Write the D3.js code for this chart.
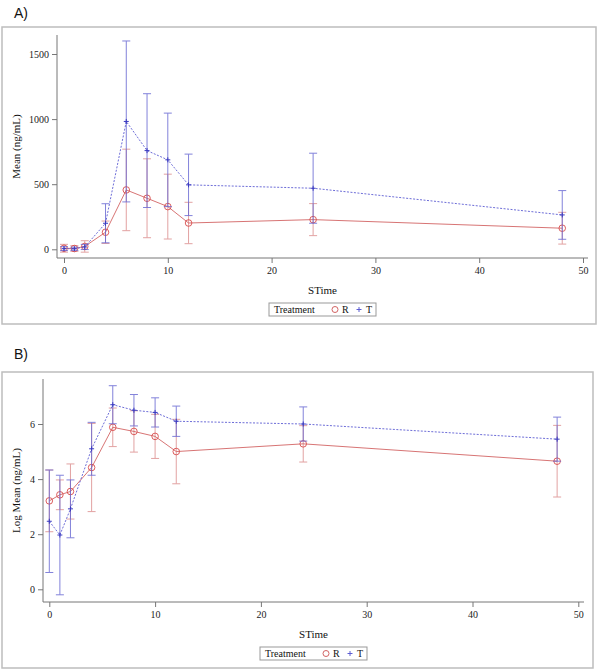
<!DOCTYPE html>
<html>
<head>
<meta charset="utf-8">
<script src="https://cdn.jsdelivr.net/npm/d3@7"></script>
<style>
  body { margin: 0; background: #fff; }
  svg { display: block; }
  .tick line { stroke: #777; }
</style>
</head>
<body>
<div id="chart"></div>
<script>
// sampling times (h)
const times = [0, 1, 2, 4, 6, 8, 10, 12, 24, 48];

// panel A: mean concentration (ng/mL) and SD
const meanR = [8, 6, 22, 131, 456, 392, 328, 202, 228, 162];
const sdR   = [30, 22, 44, 86, 313, 303, 249, 159, 123, 122];
const meanT = [5, 4, 18, 200, 982, 758, 687, 495, 469, 264];
const sdT   = [15, 12, 20, 150, 618, 437, 359, 236, 269, 187];

// panel B: log mean concentration and SD
const logMeanR = [3.21, 3.43, 3.55, 4.42, 5.88, 5.73, 5.55, 5.00, 5.28, 4.65];
const logSdR   = [1.12, 0.54, 1.00, 1.60, 0.70, 0.75, 0.80, 1.17, 0.66, 1.30];
const logMeanT = [2.47, 1.97, 2.92, 5.10, 6.70, 6.50, 6.42, 6.10, 6.00, 5.45];
const logSdT   = [1.86, 2.17, 1.05, 0.96, 0.69, 0.57, 0.53, 0.55, 0.62, 0.80];

const xTicks = [0, 10, 20, 30, 40, 50];
const meanTicks = [0, 500, 1000, 1500];
const logTicks = [0, 2, 4, 6];
const treatments = ["R", "T"];

const colorR = "#d26464", colorT = "#5c5cd2";
const serif = '"Liberation Serif", "Times New Roman", serif';

const svg = d3.select("#chart").append("svg")
  .attr("width", 600)
  .attr("height", 670);

function drawPanel(p) {
  const g = svg.append("g");

  // outer frame
  g.append("rect")
    .attr("x", p.box[0]).attr("y", p.box[1])
    .attr("width", p.box[2]).attr("height", p.box[3])
    .attr("fill", "none").attr("stroke", "#bdbdbd").attr("stroke-width", 1.5);

  g.append("text")
    .attr("x", 14).attr("y", p.titleY)
    .style("font-family", '"Liberation Sans", Arial, sans-serif')
    .style("font-size", "14px").attr("fill", "#111")
    .text(p.title);

  const x = d3.scaleLinear().domain([0, 50]).range(p.xRange);
  const y = d3.scaleLinear().domain(p.yDomain).range(p.yRange);

  // axes
  const xAxis = g.append("g")
    .attr("transform", `translate(0,${p.xAxisY})`)
    .call(d3.axisBottom(x).tickValues(xTicks).tickFormat(d3.format("d")).tickSize(5).tickPadding(4));
  xAxis.select(".domain").remove();
  g.append("line")
    .attr("x1", p.yAxisX).attr("x2", p.xLineEnd)
    .attr("y1", p.xAxisY).attr("y2", p.xAxisY)
    .attr("stroke", "#777");

  const yAxis = g.append("g")
    .attr("transform", `translate(${p.yAxisX},0)`)
    .call(d3.axisLeft(y).tickValues(p.yTicks).tickFormat(d3.format("d")).tickSize(5).tickPadding(3));
  yAxis.select(".domain").remove();
  g.append("line")
    .attr("x1", p.yAxisX).attr("x2", p.yAxisX)
    .attr("y1", p.yLineTop).attr("y2", p.xAxisY)
    .attr("stroke", "#777");

  g.selectAll(".tick text")
    .style("font-family", serif).style("font-size", "10px").attr("fill", "#222");

  // axis labels
  const midX = (p.yAxisX + p.xLineEnd) / 2;
  g.append("text")
    .attr("x", midX).attr("y", p.xAxisY + 36)
    .attr("text-anchor", "middle")
    .style("font-family", serif).style("font-size", "11px").attr("fill", "#111")
    .text("STime");

  g.append("text")
    .attr("transform", `translate(20,${(p.yLineTop + p.xAxisY) / 2}) rotate(-90)`)
    .attr("text-anchor", "middle")
    .style("font-family", serif).style("font-size", "11px").attr("fill", "#111")
    .text(p.yLabel);

  const series = [
    { name: "R", mean: p.meanR, sd: p.sdR, color: colorR, dash: null, barColor: "#dc8c8c" },
    { name: "T", mean: p.meanT, sd: p.sdT, color: colorT, dash: "2,1.5", barColor: "#6464d2" }
  ];

  series.forEach(s => {
    const pts = times.map((t, i) => ({ t, m: s.mean[i], sd: s.sd[i] }));

    // error bars
    const bars = g.append("g")
      .attr("stroke", s.barColor).attr("stroke-width", 1).attr("opacity", 0.8);
    pts.forEach(d => {
      const lo = y(d.m - d.sd), hi = y(d.m + d.sd), cx = x(d.t);
      bars.append("line").attr("x1", cx).attr("x2", cx).attr("y1", lo).attr("y2", hi);
      bars.append("line").attr("x1", cx - 4).attr("x2", cx + 4).attr("y1", lo).attr("y2", lo);
      bars.append("line").attr("x1", cx - 4).attr("x2", cx + 4).attr("y1", hi).attr("y2", hi);
    });

    // mean line
    g.append("path")
      .datum(pts)
      .attr("fill", "none")
      .attr("stroke", s.color)
      .attr("stroke-width", 0.9)
      .attr("stroke-dasharray", s.dash)
      .attr("d", d3.line().x(d => x(d.t)).y(d => y(d.m)));

    // markers
    if (s.name === "R") {
      g.selectAll(null).data(pts).join("circle")
        .attr("cx", d => x(d.t)).attr("cy", d => y(d.m)).attr("r", 3.3)
        .attr("fill", "none").attr("stroke", "#d84c4c").attr("stroke-width", 0.9);
    } else {
      g.selectAll(null).data(pts).join("path")
        .attr("d", d => `M${x(d.t) - 2.5},${y(d.m)}h5M${x(d.t)},${y(d.m) - 2.5}v5`)
        .attr("stroke", "#3a3ac0").attr("stroke-width", 1);
    }
  });

  // legend
  const lw = 107, lh = 13;
  const lx = midX - lw / 2, ly = p.xAxisY + 45;
  const lg = g.append("g").attr("transform", `translate(${lx},${ly})`);
  lg.append("rect").attr("width", lw).attr("height", lh)
    .attr("fill", "#fff").attr("stroke", "#999");
  lg.append("text").attr("x", 5).attr("y", 10)
    .style("font-family", serif).style("font-size", "10px").attr("fill", "#111")
    .text("Treatment");
  treatments.forEach((name, i) => {
    const sx = 66 + i * 24;
    if (name === "R") {
      lg.append("circle").attr("cx", sx).attr("cy", 6.5).attr("r", 3)
        .attr("fill", "none").attr("stroke", colorR);
    } else {
      lg.append("path").attr("d", `M${sx - 2.5},6.5h5M${sx},4v5`)
        .attr("stroke", colorT).attr("stroke-width", 1);
    }
    lg.append("text").attr("x", sx + 7).attr("y", 10)
      .style("font-family", serif).style("font-size", "10px").attr("fill", "#111")
      .text(name);
  });
}

drawPanel({
  title: "A)", titleY: 18,
  box: [2, 27, 594, 297],
  xRange: [64, 583], xLineEnd: 588, xAxisY: 258,
  yAxisX: 57, yLineTop: 35,
  yDomain: [0, 1500], yRange: [249.3, 54], yTicks: meanTicks,
  yLabel: "Mean (ng/mL)",
  meanR, sdR, meanT, sdT
});

drawPanel({
  title: "B)", titleY: 359,
  box: [2, 372, 591, 296],
  xRange: [49.3, 578.3], xLineEnd: 584, xAxisY: 602,
  yAxisX: 43, yLineTop: 379,
  yDomain: [0, 6], yRange: [589.3, 424], yTicks: logTicks,
  yLabel: "Log Mean (ng/mL)",
  meanR: logMeanR, sdR: logSdR, meanT: logMeanT, sdT: logSdT
});
</script>
</body>
</html>
